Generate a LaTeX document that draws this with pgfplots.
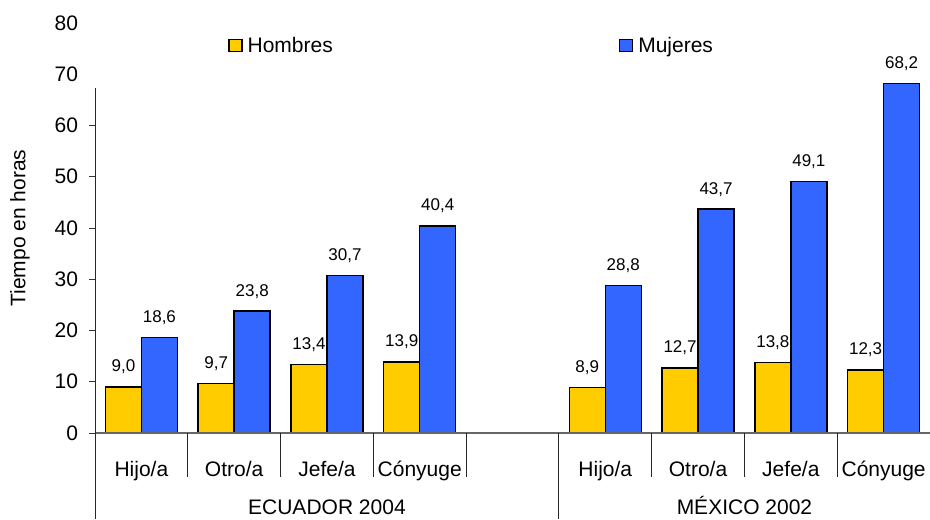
\documentclass[border=0pt]{standalone}
\usepackage{fontspec}
\setmainfont{Liberation Sans}
\usepackage{pgfplots}
\pgfplotsset{compat=1.18}
\definecolor{hom}{HTML}{FFCC00}
\definecolor{muj}{HTML}{3366FF}
\begin{document}
\begin{tikzpicture}
\begin{axis}[
  name=ax,
  scale only axis, width=835pt, height=410pt,
  xmin=-0.5, xmax=8.5, ymin=0, ymax=80,
  clip=false,
  axis line style={draw=none},
  ybar=0pt, bar width=36pt,
  font=\fontsize{21}{25}\selectfont,
  /pgf/number format/assume math mode=true,
  xtick={0,...,8},
  xticklabels={Hijo/a,Otro/a,Jefe/a,Cónyuge,,Hijo/a,Otro/a,Jefe/a,Cónyuge},
  major x tick style={draw=none},
  xticklabel style={anchor=base, yshift=-37.7pt},
  ytick={0,10,...,60},
  extra y ticks={70,80},
  extra y tick style={major y tick style={draw=none}},
  ytick pos=left,
  tick align=outside,
  major tick length=6pt,
  y tick style={black!80, line width=0.8pt},
  yticklabel style={xshift=-7.5pt},
  ylabel={Tiempo en horas},
  ylabel style={at={([xshift=-75pt]rel axis cs:0,0.5)}, anchor=center},
  nodes near coords={\pgfmathprintnumber[fixed,fixed zerofill,precision=1,use comma,assume math mode=true]{\pgfplotspointmeta}},
  every node near coord/.append style={font=\fontsize{17}{20}\selectfont, anchor=base, yshift=15pt, black},
  legend style={at={(rel axis cs:0.159,0.945)}, anchor=west, draw=none, fill=none, inner sep=0pt,
    legend columns=2, column sep=0pt, font=\fontsize{21}{25}\selectfont},
  legend cell align=left,
]
\addplot[fill=hom, draw=black, line width=1.5pt,
  legend image code/.code={\draw[fill=hom,draw=black,line width=1.8pt] (0pt,-6pt) rectangle (13pt,6pt); \path (16pt,0pt);}]
  coordinates {(0,9.0) (1,9.7) (2,13.4) (3,13.9) (5,8.9) (6,12.7) (7,13.8) (8,12.3)};
\addlegendentry{\makebox[369pt][l]{Hombres}}
\addplot[fill=muj, draw=black, line width=1.5pt,
  legend image code/.code={\draw[fill=muj,draw=black,line width=1.8pt] (0pt,-6pt) rectangle (13pt,6pt); \path (16pt,0pt);}]
  coordinates {(0,18.6) (1,23.8) (2,30.7) (3,40.4) (5,28.8) (6,43.7) (7,49.1) (8,68.2)};
\addlegendentry{Mujeres}
% axis lines and group separators
\draw[black!60, line width=1.2pt] (rel axis cs:0,0) -- (rel axis cs:1,0);
\draw[black!85, line width=0.8pt] (axis cs:-0.5,67.3) -- ([yshift=-86pt]axis cs:-0.5,0);
\draw[black!85, line width=0.8pt] (axis cs:4.5,0) -- ([yshift=-86pt]axis cs:4.5,0);
\pgfplotsinvokeforeach{0.5,1.5,2.5,3.5,5.5,6.5,7.5}{
  \draw[black!85, line width=0.8pt] (axis cs:#1,0) -- ([yshift=-44pt]axis cs:#1,0);
}
\node[anchor=base, font=\fontsize{21}{25}\selectfont] at ([yshift=-81pt]axis cs:2,0) {ECUADOR 2004};
\node[anchor=base, font=\fontsize{21}{25}\selectfont] at ([yshift=-81pt]axis cs:6.5,0) {MÉXICO 2002};
\end{axis}
\pgfresetboundingbox
\path[use as bounding box] ([xshift=-95pt,yshift=-86pt]ax.south west) rectangle ([yshift=23pt]ax.north east);
\end{tikzpicture}
\end{document}
